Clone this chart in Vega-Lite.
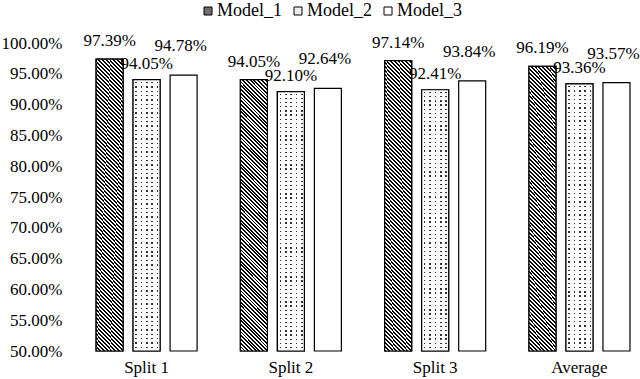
{
  "$schema": "https://vega.github.io/schema/vega-lite/v6.json",
  "width": 574,
  "height": 308,
  "autosize": {"type": "none"},
  "padding": {"left": 66, "top": 43, "right": 0, "bottom": 28},
  "background": "white",
  "config": {"view": {"stroke": null}, "font": "Liberation Serif"},
  "data": {
    "values": [
      {"split": "Split 1", "model": "Model_1", "value": 0.9739},
      {"split": "Split 1", "model": "Model_2", "value": 0.9405},
      {"split": "Split 1", "model": "Model_3", "value": 0.9478},
      {"split": "Split 2", "model": "Model_1", "value": 0.9405},
      {"split": "Split 2", "model": "Model_2", "value": 0.9210},
      {"split": "Split 2", "model": "Model_3", "value": 0.9264},
      {"split": "Split 3", "model": "Model_1", "value": 0.9714},
      {"split": "Split 3", "model": "Model_2", "value": 0.9241},
      {"split": "Split 3", "model": "Model_3", "value": 0.9384},
      {"split": "Average", "model": "Model_1", "value": 0.9619},
      {"split": "Average", "model": "Model_2", "value": 0.9336},
      {"split": "Average", "model": "Model_3", "value": 0.9357}
    ]
  },
  "encoding": {
    "x": {
      "field": "split", "type": "nominal",
      "sort": ["Split 1", "Split 2", "Split 3", "Average"],
      "scale": {"paddingInner": 0.3, "paddingOuter": 0.139, "align": 0.75, "round": false},
      "axis": {"title": null, "domain": false, "ticks": false, "labelAngle": 0, "labelPadding": 8, "labelFont": "Liberation Serif", "labelFontSize": 17, "labelColor": "black"}
    },
    "xOffset": {
      "field": "model", "type": "nominal",
      "scale": {"domain": ["Model_1", "Model_2", "Model_3"], "paddingInner": 0.27, "paddingOuter": 0, "round": false}
    },
    "y": {
      "field": "value", "type": "quantitative",
      "scale": {"domain": [0.5, 1], "zero": false, "nice": false},
      "axis": {"title": null, "domain": false, "ticks": false, "grid": false, "format": ".2%", "values": [0.5, 0.55, 0.6, 0.65, 0.7, 0.75, 0.8, 0.85, 0.9, 0.95, 1.0], "labelPadding": 4, "labelFont": "Liberation Serif", "labelFontSize": 17, "labelColor": "black"}
    }
  },
  "layer": [
    {
      "mark": {"type": "bar", "stroke": "black", "strokeWidth": 1.2},
      "encoding": {
        "y2": {"datum": 0.5},
        "fill": {
          "field": "model", "type": "nominal",
          "scale": {"domain": ["Model_1", "Model_2", "Model_3"], "range": ["#6e6e6e", "#eeeeee", "#ffffff"]},
          "legend": {
            "orient": "none", "legendX": 133, "legendY": -41, "direction": "horizontal",
            "title": null, "padding": 0, "symbolType": "square", "symbolSize": 64,
            "symbolStrokeColor": "black", "symbolStrokeWidth": 1, "symbolOpacity": 1,
            "labelFont": "Liberation Serif", "labelFontSize": 18, "labelColor": "black",
            "labelOffset": 0, "columnPadding": 7
          }
        }
      }
    },
    {
      "transform": [{"filter": "datum.model === 'Model_1'"}],
      "mark": {"type": "bar", "stroke": "black", "strokeWidth": 1.2, "fill": {"gradient": "linear", "x1": 0, "y1": 1, "x2": 0.1089, "y2": -0.0891, "stops": [
                {"offset": 0, "color": "#000"}, {"offset": 0.00625, "color": "#000"}, {"offset": 0.00625, "color": "#fff"}, {"offset": 0.0125, "color": "#fff"},
                {"offset": 0.0125, "color": "#000"}, {"offset": 0.01875, "color": "#000"}, {"offset": 0.01875, "color": "#fff"}, {"offset": 0.025, "color": "#fff"},
                {"offset": 0.025, "color": "#000"}, {"offset": 0.03125, "color": "#000"}, {"offset": 0.03125, "color": "#fff"}, {"offset": 0.0375, "color": "#fff"},
                {"offset": 0.0375, "color": "#000"}, {"offset": 0.04375, "color": "#000"}, {"offset": 0.04375, "color": "#fff"}, {"offset": 0.05, "color": "#fff"},
                {"offset": 0.05, "color": "#000"}, {"offset": 0.05625, "color": "#000"}, {"offset": 0.05625, "color": "#fff"}, {"offset": 0.0625, "color": "#fff"},
                {"offset": 0.0625, "color": "#000"}, {"offset": 0.06875, "color": "#000"}, {"offset": 0.06875, "color": "#fff"}, {"offset": 0.075, "color": "#fff"},
                {"offset": 0.075, "color": "#000"}, {"offset": 0.08125, "color": "#000"}, {"offset": 0.08125, "color": "#fff"}, {"offset": 0.0875, "color": "#fff"},
                {"offset": 0.0875, "color": "#000"}, {"offset": 0.09375, "color": "#000"}, {"offset": 0.09375, "color": "#fff"}, {"offset": 0.1, "color": "#fff"},
                {"offset": 0.1, "color": "#000"}, {"offset": 0.10625, "color": "#000"}, {"offset": 0.10625, "color": "#fff"}, {"offset": 0.1125, "color": "#fff"},
                {"offset": 0.1125, "color": "#000"}, {"offset": 0.11875, "color": "#000"}, {"offset": 0.11875, "color": "#fff"}, {"offset": 0.125, "color": "#fff"},
                {"offset": 0.125, "color": "#000"}, {"offset": 0.13125, "color": "#000"}, {"offset": 0.13125, "color": "#fff"}, {"offset": 0.1375, "color": "#fff"},
                {"offset": 0.1375, "color": "#000"}, {"offset": 0.14375, "color": "#000"}, {"offset": 0.14375, "color": "#fff"}, {"offset": 0.15, "color": "#fff"},
                {"offset": 0.15, "color": "#000"}, {"offset": 0.15625, "color": "#000"}, {"offset": 0.15625, "color": "#fff"}, {"offset": 0.1625, "color": "#fff"},
                {"offset": 0.1625, "color": "#000"}, {"offset": 0.16875, "color": "#000"}, {"offset": 0.16875, "color": "#fff"}, {"offset": 0.175, "color": "#fff"},
                {"offset": 0.175, "color": "#000"}, {"offset": 0.18125, "color": "#000"}, {"offset": 0.18125, "color": "#fff"}, {"offset": 0.1875, "color": "#fff"},
                {"offset": 0.1875, "color": "#000"}, {"offset": 0.19375, "color": "#000"}, {"offset": 0.19375, "color": "#fff"}, {"offset": 0.2, "color": "#fff"},
                {"offset": 0.2, "color": "#000"}, {"offset": 0.20625, "color": "#000"}, {"offset": 0.20625, "color": "#fff"}, {"offset": 0.2125, "color": "#fff"},
                {"offset": 0.2125, "color": "#000"}, {"offset": 0.21875, "color": "#000"}, {"offset": 0.21875, "color": "#fff"}, {"offset": 0.225, "color": "#fff"},
                {"offset": 0.225, "color": "#000"}, {"offset": 0.23125, "color": "#000"}, {"offset": 0.23125, "color": "#fff"}, {"offset": 0.2375, "color": "#fff"},
                {"offset": 0.2375, "color": "#000"}, {"offset": 0.24375, "color": "#000"}, {"offset": 0.24375, "color": "#fff"}, {"offset": 0.25, "color": "#fff"},
                {"offset": 0.25, "color": "#000"}, {"offset": 0.25625, "color": "#000"}, {"offset": 0.25625, "color": "#fff"}, {"offset": 0.2625, "color": "#fff"},
                {"offset": 0.2625, "color": "#000"}, {"offset": 0.26875, "color": "#000"}, {"offset": 0.26875, "color": "#fff"}, {"offset": 0.275, "color": "#fff"},
                {"offset": 0.275, "color": "#000"}, {"offset": 0.28125, "color": "#000"}, {"offset": 0.28125, "color": "#fff"}, {"offset": 0.2875, "color": "#fff"},
                {"offset": 0.2875, "color": "#000"}, {"offset": 0.29375, "color": "#000"}, {"offset": 0.29375, "color": "#fff"}, {"offset": 0.3, "color": "#fff"},
                {"offset": 0.3, "color": "#000"}, {"offset": 0.30625, "color": "#000"}, {"offset": 0.30625, "color": "#fff"}, {"offset": 0.3125, "color": "#fff"},
                {"offset": 0.3125, "color": "#000"}, {"offset": 0.31875, "color": "#000"}, {"offset": 0.31875, "color": "#fff"}, {"offset": 0.325, "color": "#fff"},
                {"offset": 0.325, "color": "#000"}, {"offset": 0.33125, "color": "#000"}, {"offset": 0.33125, "color": "#fff"}, {"offset": 0.3375, "color": "#fff"},
                {"offset": 0.3375, "color": "#000"}, {"offset": 0.34375, "color": "#000"}, {"offset": 0.34375, "color": "#fff"}, {"offset": 0.35, "color": "#fff"},
                {"offset": 0.35, "color": "#000"}, {"offset": 0.35625, "color": "#000"}, {"offset": 0.35625, "color": "#fff"}, {"offset": 0.3625, "color": "#fff"},
                {"offset": 0.3625, "color": "#000"}, {"offset": 0.36875, "color": "#000"}, {"offset": 0.36875, "color": "#fff"}, {"offset": 0.375, "color": "#fff"},
                {"offset": 0.375, "color": "#000"}, {"offset": 0.38125, "color": "#000"}, {"offset": 0.38125, "color": "#fff"}, {"offset": 0.3875, "color": "#fff"},
                {"offset": 0.3875, "color": "#000"}, {"offset": 0.39375, "color": "#000"}, {"offset": 0.39375, "color": "#fff"}, {"offset": 0.4, "color": "#fff"},
                {"offset": 0.4, "color": "#000"}, {"offset": 0.40625, "color": "#000"}, {"offset": 0.40625, "color": "#fff"}, {"offset": 0.4125, "color": "#fff"},
                {"offset": 0.4125, "color": "#000"}, {"offset": 0.41875, "color": "#000"}, {"offset": 0.41875, "color": "#fff"}, {"offset": 0.425, "color": "#fff"},
                {"offset": 0.425, "color": "#000"}, {"offset": 0.43125, "color": "#000"}, {"offset": 0.43125, "color": "#fff"}, {"offset": 0.4375, "color": "#fff"},
                {"offset": 0.4375, "color": "#000"}, {"offset": 0.44375, "color": "#000"}, {"offset": 0.44375, "color": "#fff"}, {"offset": 0.45, "color": "#fff"},
                {"offset": 0.45, "color": "#000"}, {"offset": 0.45625, "color": "#000"}, {"offset": 0.45625, "color": "#fff"}, {"offset": 0.4625, "color": "#fff"},
                {"offset": 0.4625, "color": "#000"}, {"offset": 0.46875, "color": "#000"}, {"offset": 0.46875, "color": "#fff"}, {"offset": 0.475, "color": "#fff"},
                {"offset": 0.475, "color": "#000"}, {"offset": 0.48125, "color": "#000"}, {"offset": 0.48125, "color": "#fff"}, {"offset": 0.4875, "color": "#fff"},
                {"offset": 0.4875, "color": "#000"}, {"offset": 0.49375, "color": "#000"}, {"offset": 0.49375, "color": "#fff"}, {"offset": 0.5, "color": "#fff"},
                {"offset": 0.5, "color": "#000"}, {"offset": 0.50625, "color": "#000"}, {"offset": 0.50625, "color": "#fff"}, {"offset": 0.5125, "color": "#fff"},
                {"offset": 0.5125, "color": "#000"}, {"offset": 0.51875, "color": "#000"}, {"offset": 0.51875, "color": "#fff"}, {"offset": 0.525, "color": "#fff"},
                {"offset": 0.525, "color": "#000"}, {"offset": 0.53125, "color": "#000"}, {"offset": 0.53125, "color": "#fff"}, {"offset": 0.5375, "color": "#fff"},
                {"offset": 0.5375, "color": "#000"}, {"offset": 0.54375, "color": "#000"}, {"offset": 0.54375, "color": "#fff"}, {"offset": 0.55, "color": "#fff"},
                {"offset": 0.55, "color": "#000"}, {"offset": 0.55625, "color": "#000"}, {"offset": 0.55625, "color": "#fff"}, {"offset": 0.5625, "color": "#fff"},
                {"offset": 0.5625, "color": "#000"}, {"offset": 0.56875, "color": "#000"}, {"offset": 0.56875, "color": "#fff"}, {"offset": 0.575, "color": "#fff"},
                {"offset": 0.575, "color": "#000"}, {"offset": 0.58125, "color": "#000"}, {"offset": 0.58125, "color": "#fff"}, {"offset": 0.5875, "color": "#fff"},
                {"offset": 0.5875, "color": "#000"}, {"offset": 0.59375, "color": "#000"}, {"offset": 0.59375, "color": "#fff"}, {"offset": 0.6, "color": "#fff"},
                {"offset": 0.6, "color": "#000"}, {"offset": 0.60625, "color": "#000"}, {"offset": 0.60625, "color": "#fff"}, {"offset": 0.6125, "color": "#fff"},
                {"offset": 0.6125, "color": "#000"}, {"offset": 0.61875, "color": "#000"}, {"offset": 0.61875, "color": "#fff"}, {"offset": 0.625, "color": "#fff"},
                {"offset": 0.625, "color": "#000"}, {"offset": 0.63125, "color": "#000"}, {"offset": 0.63125, "color": "#fff"}, {"offset": 0.6375, "color": "#fff"},
                {"offset": 0.6375, "color": "#000"}, {"offset": 0.64375, "color": "#000"}, {"offset": 0.64375, "color": "#fff"}, {"offset": 0.65, "color": "#fff"},
                {"offset": 0.65, "color": "#000"}, {"offset": 0.65625, "color": "#000"}, {"offset": 0.65625, "color": "#fff"}, {"offset": 0.6625, "color": "#fff"},
                {"offset": 0.6625, "color": "#000"}, {"offset": 0.66875, "color": "#000"}, {"offset": 0.66875, "color": "#fff"}, {"offset": 0.675, "color": "#fff"},
                {"offset": 0.675, "color": "#000"}, {"offset": 0.68125, "color": "#000"}, {"offset": 0.68125, "color": "#fff"}, {"offset": 0.6875, "color": "#fff"},
                {"offset": 0.6875, "color": "#000"}, {"offset": 0.69375, "color": "#000"}, {"offset": 0.69375, "color": "#fff"}, {"offset": 0.7, "color": "#fff"},
                {"offset": 0.7, "color": "#000"}, {"offset": 0.70625, "color": "#000"}, {"offset": 0.70625, "color": "#fff"}, {"offset": 0.7125, "color": "#fff"},
                {"offset": 0.7125, "color": "#000"}, {"offset": 0.71875, "color": "#000"}, {"offset": 0.71875, "color": "#fff"}, {"offset": 0.725, "color": "#fff"},
                {"offset": 0.725, "color": "#000"}, {"offset": 0.73125, "color": "#000"}, {"offset": 0.73125, "color": "#fff"}, {"offset": 0.7375, "color": "#fff"},
                {"offset": 0.7375, "color": "#000"}, {"offset": 0.74375, "color": "#000"}, {"offset": 0.74375, "color": "#fff"}, {"offset": 0.75, "color": "#fff"},
                {"offset": 0.75, "color": "#000"}, {"offset": 0.75625, "color": "#000"}, {"offset": 0.75625, "color": "#fff"}, {"offset": 0.7625, "color": "#fff"},
                {"offset": 0.7625, "color": "#000"}, {"offset": 0.76875, "color": "#000"}, {"offset": 0.76875, "color": "#fff"}, {"offset": 0.775, "color": "#fff"},
                {"offset": 0.775, "color": "#000"}, {"offset": 0.78125, "color": "#000"}, {"offset": 0.78125, "color": "#fff"}, {"offset": 0.7875, "color": "#fff"},
                {"offset": 0.7875, "color": "#000"}, {"offset": 0.79375, "color": "#000"}, {"offset": 0.79375, "color": "#fff"}, {"offset": 0.8, "color": "#fff"},
                {"offset": 0.8, "color": "#000"}, {"offset": 0.80625, "color": "#000"}, {"offset": 0.80625, "color": "#fff"}, {"offset": 0.8125, "color": "#fff"},
                {"offset": 0.8125, "color": "#000"}, {"offset": 0.81875, "color": "#000"}, {"offset": 0.81875, "color": "#fff"}, {"offset": 0.825, "color": "#fff"},
                {"offset": 0.825, "color": "#000"}, {"offset": 0.83125, "color": "#000"}, {"offset": 0.83125, "color": "#fff"}, {"offset": 0.8375, "color": "#fff"},
                {"offset": 0.8375, "color": "#000"}, {"offset": 0.84375, "color": "#000"}, {"offset": 0.84375, "color": "#fff"}, {"offset": 0.85, "color": "#fff"},
                {"offset": 0.85, "color": "#000"}, {"offset": 0.85625, "color": "#000"}, {"offset": 0.85625, "color": "#fff"}, {"offset": 0.8625, "color": "#fff"},
                {"offset": 0.8625, "color": "#000"}, {"offset": 0.86875, "color": "#000"}, {"offset": 0.86875, "color": "#fff"}, {"offset": 0.875, "color": "#fff"},
                {"offset": 0.875, "color": "#000"}, {"offset": 0.88125, "color": "#000"}, {"offset": 0.88125, "color": "#fff"}, {"offset": 0.8875, "color": "#fff"},
                {"offset": 0.8875, "color": "#000"}, {"offset": 0.89375, "color": "#000"}, {"offset": 0.89375, "color": "#fff"}, {"offset": 0.9, "color": "#fff"},
                {"offset": 0.9, "color": "#000"}, {"offset": 0.90625, "color": "#000"}, {"offset": 0.90625, "color": "#fff"}, {"offset": 0.9125, "color": "#fff"},
                {"offset": 0.9125, "color": "#000"}, {"offset": 0.91875, "color": "#000"}, {"offset": 0.91875, "color": "#fff"}, {"offset": 0.925, "color": "#fff"},
                {"offset": 0.925, "color": "#000"}, {"offset": 0.93125, "color": "#000"}, {"offset": 0.93125, "color": "#fff"}, {"offset": 0.9375, "color": "#fff"},
                {"offset": 0.9375, "color": "#000"}, {"offset": 0.94375, "color": "#000"}, {"offset": 0.94375, "color": "#fff"}, {"offset": 0.95, "color": "#fff"},
                {"offset": 0.95, "color": "#000"}, {"offset": 0.95625, "color": "#000"}, {"offset": 0.95625, "color": "#fff"}, {"offset": 0.9625, "color": "#fff"},
                {"offset": 0.9625, "color": "#000"}, {"offset": 0.96875, "color": "#000"}, {"offset": 0.96875, "color": "#fff"}, {"offset": 0.975, "color": "#fff"},
                {"offset": 0.975, "color": "#000"}, {"offset": 0.98125, "color": "#000"}, {"offset": 0.98125, "color": "#fff"}, {"offset": 0.9875, "color": "#fff"},
                {"offset": 0.9875, "color": "#000"}, {"offset": 0.99375, "color": "#000"}, {"offset": 0.99375, "color": "#fff"}, {"offset": 1, "color": "#fff"}
              ]}},
      "encoding": {"y2": {"datum": 0.5}}
    },
    {
      "transform": [{"filter": "datum.model === 'Model_2'"}],
      "mark": {"type": "bar", "strokeWidth": 0, "fill": {"gradient": "linear", "x1": 0, "y1": 0, "x2": 1, "y2": 0, "stops": [
                {"offset": 0, "color": "#fff"}, {"offset": 0.08, "color": "#fff"}, {"offset": 0.08, "color": "#333"}, {"offset": 0.14, "color": "#333"}, {"offset": 0.14, "color": "#fff"}, {"offset": 0.2, "color": "#fff"},
                {"offset": 0.2, "color": "#fff"}, {"offset": 0.28, "color": "#fff"}, {"offset": 0.28, "color": "#333"}, {"offset": 0.34, "color": "#333"}, {"offset": 0.34, "color": "#fff"}, {"offset": 0.4, "color": "#fff"},
                {"offset": 0.4, "color": "#fff"}, {"offset": 0.48, "color": "#fff"}, {"offset": 0.48, "color": "#333"}, {"offset": 0.54, "color": "#333"}, {"offset": 0.54, "color": "#fff"}, {"offset": 0.6, "color": "#fff"},
                {"offset": 0.6, "color": "#fff"}, {"offset": 0.68, "color": "#fff"}, {"offset": 0.68, "color": "#333"}, {"offset": 0.74, "color": "#333"}, {"offset": 0.74, "color": "#fff"}, {"offset": 0.8, "color": "#fff"},
                {"offset": 0.8, "color": "#fff"}, {"offset": 0.88, "color": "#fff"}, {"offset": 0.88, "color": "#333"}, {"offset": 0.94, "color": "#333"}, {"offset": 0.94, "color": "#fff"}, {"offset": 1, "color": "#fff"}
              ]}},
      "encoding": {"y2": {"datum": 0.5}}
    },
    {
      "transform": [{"filter": "datum.model === 'Model_2'"}],
      "mark": {"type": "bar", "stroke": "black", "strokeWidth": 1.2, "fill": {"gradient": "linear", "x1": 0, "y1": 0, "x2": 0, "y2": 1, "stops": [
                {"offset": 0, "color": "#fff"}, {"offset": 0.008, "color": "#fff"},
                {"offset": 0.008, "color": "transparent"}, {"offset": 0.013, "color": "transparent"}, {"offset": 0.013, "color": "#fff"}, {"offset": 0.024, "color": "#fff"},
                {"offset": 0.024, "color": "transparent"}, {"offset": 0.029, "color": "transparent"}, {"offset": 0.029, "color": "#fff"}, {"offset": 0.040, "color": "#fff"},
                {"offset": 0.040, "color": "transparent"}, {"offset": 0.045, "color": "transparent"}, {"offset": 0.045, "color": "#fff"}, {"offset": 0.056, "color": "#fff"},
                {"offset": 0.056, "color": "transparent"}, {"offset": 0.061, "color": "transparent"}, {"offset": 0.061, "color": "#fff"}, {"offset": 0.072, "color": "#fff"},
                {"offset": 0.072, "color": "transparent"}, {"offset": 0.077, "color": "transparent"}, {"offset": 0.077, "color": "#fff"}, {"offset": 0.088, "color": "#fff"},
                {"offset": 0.088, "color": "transparent"}, {"offset": 0.093, "color": "transparent"}, {"offset": 0.093, "color": "#fff"}, {"offset": 0.104, "color": "#fff"},
                {"offset": 0.104, "color": "transparent"}, {"offset": 0.109, "color": "transparent"}, {"offset": 0.109, "color": "#fff"}, {"offset": 0.120, "color": "#fff"},
                {"offset": 0.120, "color": "transparent"}, {"offset": 0.125, "color": "transparent"}, {"offset": 0.125, "color": "#fff"}, {"offset": 0.136, "color": "#fff"},
                {"offset": 0.136, "color": "transparent"}, {"offset": 0.141, "color": "transparent"}, {"offset": 0.141, "color": "#fff"}, {"offset": 0.152, "color": "#fff"},
                {"offset": 0.152, "color": "transparent"}, {"offset": 0.157, "color": "transparent"}, {"offset": 0.157, "color": "#fff"}, {"offset": 0.168, "color": "#fff"},
                {"offset": 0.168, "color": "transparent"}, {"offset": 0.173, "color": "transparent"}, {"offset": 0.173, "color": "#fff"}, {"offset": 0.184, "color": "#fff"},
                {"offset": 0.184, "color": "transparent"}, {"offset": 0.189, "color": "transparent"}, {"offset": 0.189, "color": "#fff"}, {"offset": 0.200, "color": "#fff"},
                {"offset": 0.200, "color": "transparent"}, {"offset": 0.205, "color": "transparent"}, {"offset": 0.205, "color": "#fff"}, {"offset": 0.216, "color": "#fff"},
                {"offset": 0.216, "color": "transparent"}, {"offset": 0.221, "color": "transparent"}, {"offset": 0.221, "color": "#fff"}, {"offset": 0.232, "color": "#fff"},
                {"offset": 0.232, "color": "transparent"}, {"offset": 0.237, "color": "transparent"}, {"offset": 0.237, "color": "#fff"}, {"offset": 0.248, "color": "#fff"},
                {"offset": 0.248, "color": "transparent"}, {"offset": 0.253, "color": "transparent"}, {"offset": 0.253, "color": "#fff"}, {"offset": 0.264, "color": "#fff"},
                {"offset": 0.264, "color": "transparent"}, {"offset": 0.269, "color": "transparent"}, {"offset": 0.269, "color": "#fff"}, {"offset": 0.280, "color": "#fff"},
                {"offset": 0.280, "color": "transparent"}, {"offset": 0.285, "color": "transparent"}, {"offset": 0.285, "color": "#fff"}, {"offset": 0.296, "color": "#fff"},
                {"offset": 0.296, "color": "transparent"}, {"offset": 0.301, "color": "transparent"}, {"offset": 0.301, "color": "#fff"}, {"offset": 0.312, "color": "#fff"},
                {"offset": 0.312, "color": "transparent"}, {"offset": 0.317, "color": "transparent"}, {"offset": 0.317, "color": "#fff"}, {"offset": 0.328, "color": "#fff"},
                {"offset": 0.328, "color": "transparent"}, {"offset": 0.333, "color": "transparent"}, {"offset": 0.333, "color": "#fff"}, {"offset": 0.344, "color": "#fff"},
                {"offset": 0.344, "color": "transparent"}, {"offset": 0.349, "color": "transparent"}, {"offset": 0.349, "color": "#fff"}, {"offset": 0.360, "color": "#fff"},
                {"offset": 0.360, "color": "transparent"}, {"offset": 0.365, "color": "transparent"}, {"offset": 0.365, "color": "#fff"}, {"offset": 0.376, "color": "#fff"},
                {"offset": 0.376, "color": "transparent"}, {"offset": 0.381, "color": "transparent"}, {"offset": 0.381, "color": "#fff"}, {"offset": 0.392, "color": "#fff"},
                {"offset": 0.392, "color": "transparent"}, {"offset": 0.397, "color": "transparent"}, {"offset": 0.397, "color": "#fff"}, {"offset": 0.408, "color": "#fff"},
                {"offset": 0.408, "color": "transparent"}, {"offset": 0.413, "color": "transparent"}, {"offset": 0.413, "color": "#fff"}, {"offset": 0.424, "color": "#fff"},
                {"offset": 0.424, "color": "transparent"}, {"offset": 0.429, "color": "transparent"}, {"offset": 0.429, "color": "#fff"}, {"offset": 0.440, "color": "#fff"},
                {"offset": 0.440, "color": "transparent"}, {"offset": 0.445, "color": "transparent"}, {"offset": 0.445, "color": "#fff"}, {"offset": 0.456, "color": "#fff"},
                {"offset": 0.456, "color": "transparent"}, {"offset": 0.461, "color": "transparent"}, {"offset": 0.461, "color": "#fff"}, {"offset": 0.472, "color": "#fff"},
                {"offset": 0.472, "color": "transparent"}, {"offset": 0.477, "color": "transparent"}, {"offset": 0.477, "color": "#fff"}, {"offset": 0.488, "color": "#fff"},
                {"offset": 0.488, "color": "transparent"}, {"offset": 0.493, "color": "transparent"}, {"offset": 0.493, "color": "#fff"}, {"offset": 0.504, "color": "#fff"},
                {"offset": 0.504, "color": "transparent"}, {"offset": 0.509, "color": "transparent"}, {"offset": 0.509, "color": "#fff"}, {"offset": 0.520, "color": "#fff"},
                {"offset": 0.520, "color": "transparent"}, {"offset": 0.525, "color": "transparent"}, {"offset": 0.525, "color": "#fff"}, {"offset": 0.536, "color": "#fff"},
                {"offset": 0.536, "color": "transparent"}, {"offset": 0.541, "color": "transparent"}, {"offset": 0.541, "color": "#fff"}, {"offset": 0.552, "color": "#fff"},
                {"offset": 0.552, "color": "transparent"}, {"offset": 0.557, "color": "transparent"}, {"offset": 0.557, "color": "#fff"}, {"offset": 0.568, "color": "#fff"},
                {"offset": 0.568, "color": "transparent"}, {"offset": 0.573, "color": "transparent"}, {"offset": 0.573, "color": "#fff"}, {"offset": 0.584, "color": "#fff"},
                {"offset": 0.584, "color": "transparent"}, {"offset": 0.589, "color": "transparent"}, {"offset": 0.589, "color": "#fff"}, {"offset": 0.600, "color": "#fff"},
                {"offset": 0.600, "color": "transparent"}, {"offset": 0.605, "color": "transparent"}, {"offset": 0.605, "color": "#fff"}, {"offset": 0.616, "color": "#fff"},
                {"offset": 0.616, "color": "transparent"}, {"offset": 0.621, "color": "transparent"}, {"offset": 0.621, "color": "#fff"}, {"offset": 0.632, "color": "#fff"},
                {"offset": 0.632, "color": "transparent"}, {"offset": 0.637, "color": "transparent"}, {"offset": 0.637, "color": "#fff"}, {"offset": 0.648, "color": "#fff"},
                {"offset": 0.648, "color": "transparent"}, {"offset": 0.653, "color": "transparent"}, {"offset": 0.653, "color": "#fff"}, {"offset": 0.664, "color": "#fff"},
                {"offset": 0.664, "color": "transparent"}, {"offset": 0.669, "color": "transparent"}, {"offset": 0.669, "color": "#fff"}, {"offset": 0.680, "color": "#fff"},
                {"offset": 0.680, "color": "transparent"}, {"offset": 0.685, "color": "transparent"}, {"offset": 0.685, "color": "#fff"}, {"offset": 0.696, "color": "#fff"},
                {"offset": 0.696, "color": "transparent"}, {"offset": 0.701, "color": "transparent"}, {"offset": 0.701, "color": "#fff"}, {"offset": 0.712, "color": "#fff"},
                {"offset": 0.712, "color": "transparent"}, {"offset": 0.717, "color": "transparent"}, {"offset": 0.717, "color": "#fff"}, {"offset": 0.728, "color": "#fff"},
                {"offset": 0.728, "color": "transparent"}, {"offset": 0.733, "color": "transparent"}, {"offset": 0.733, "color": "#fff"}, {"offset": 0.744, "color": "#fff"},
                {"offset": 0.744, "color": "transparent"}, {"offset": 0.749, "color": "transparent"}, {"offset": 0.749, "color": "#fff"}, {"offset": 0.760, "color": "#fff"},
                {"offset": 0.760, "color": "transparent"}, {"offset": 0.765, "color": "transparent"}, {"offset": 0.765, "color": "#fff"}, {"offset": 0.776, "color": "#fff"},
                {"offset": 0.776, "color": "transparent"}, {"offset": 0.781, "color": "transparent"}, {"offset": 0.781, "color": "#fff"}, {"offset": 0.792, "color": "#fff"},
                {"offset": 0.792, "color": "transparent"}, {"offset": 0.797, "color": "transparent"}, {"offset": 0.797, "color": "#fff"}, {"offset": 0.808, "color": "#fff"},
                {"offset": 0.808, "color": "transparent"}, {"offset": 0.813, "color": "transparent"}, {"offset": 0.813, "color": "#fff"}, {"offset": 0.824, "color": "#fff"},
                {"offset": 0.824, "color": "transparent"}, {"offset": 0.829, "color": "transparent"}, {"offset": 0.829, "color": "#fff"}, {"offset": 0.840, "color": "#fff"},
                {"offset": 0.840, "color": "transparent"}, {"offset": 0.845, "color": "transparent"}, {"offset": 0.845, "color": "#fff"}, {"offset": 0.856, "color": "#fff"},
                {"offset": 0.856, "color": "transparent"}, {"offset": 0.861, "color": "transparent"}, {"offset": 0.861, "color": "#fff"}, {"offset": 0.872, "color": "#fff"},
                {"offset": 0.872, "color": "transparent"}, {"offset": 0.877, "color": "transparent"}, {"offset": 0.877, "color": "#fff"}, {"offset": 0.888, "color": "#fff"},
                {"offset": 0.888, "color": "transparent"}, {"offset": 0.893, "color": "transparent"}, {"offset": 0.893, "color": "#fff"}, {"offset": 0.904, "color": "#fff"},
                {"offset": 0.904, "color": "transparent"}, {"offset": 0.909, "color": "transparent"}, {"offset": 0.909, "color": "#fff"}, {"offset": 0.920, "color": "#fff"},
                {"offset": 0.920, "color": "transparent"}, {"offset": 0.925, "color": "transparent"}, {"offset": 0.925, "color": "#fff"}, {"offset": 0.936, "color": "#fff"},
                {"offset": 0.936, "color": "transparent"}, {"offset": 0.941, "color": "transparent"}, {"offset": 0.941, "color": "#fff"}, {"offset": 0.952, "color": "#fff"},
                {"offset": 0.952, "color": "transparent"}, {"offset": 0.957, "color": "transparent"}, {"offset": 0.957, "color": "#fff"}, {"offset": 0.968, "color": "#fff"},
                {"offset": 0.968, "color": "transparent"}, {"offset": 0.973, "color": "transparent"}, {"offset": 0.973, "color": "#fff"}, {"offset": 0.984, "color": "#fff"},
                {"offset": 0.984, "color": "transparent"}, {"offset": 0.989, "color": "transparent"}, {"offset": 0.989, "color": "#fff"}, {"offset": 1, "color": "#fff"}
              ]}},
      "encoding": {"y2": {"datum": 0.5}}
    },
    {
      "transform": [{"filter": "datum.model === 'Model_1'"}],
      "mark": {"type": "text", "baseline": "alphabetic", "dy": -13, "font": "Liberation Serif", "fontSize": 17, "color": "black"},
      "encoding": {"text": {"field": "value", "type": "quantitative", "format": ".2%"}}
    },
    {
      "transform": [{"filter": "datum.model === 'Model_2'"}],
      "mark": {"type": "text", "baseline": "alphabetic", "dy": -11, "font": "Liberation Serif", "fontSize": 17, "color": "black"},
      "encoding": {"text": {"field": "value", "type": "quantitative", "format": ".2%"}}
    },
    {
      "transform": [{"filter": "datum.model === 'Model_3'"}],
      "mark": {"type": "text", "baseline": "alphabetic", "dy": -24, "dx": -3, "font": "Liberation Serif", "fontSize": 17, "color": "black"},
      "encoding": {"text": {"field": "value", "type": "quantitative", "format": ".2%"}}
    }
  ]
}
